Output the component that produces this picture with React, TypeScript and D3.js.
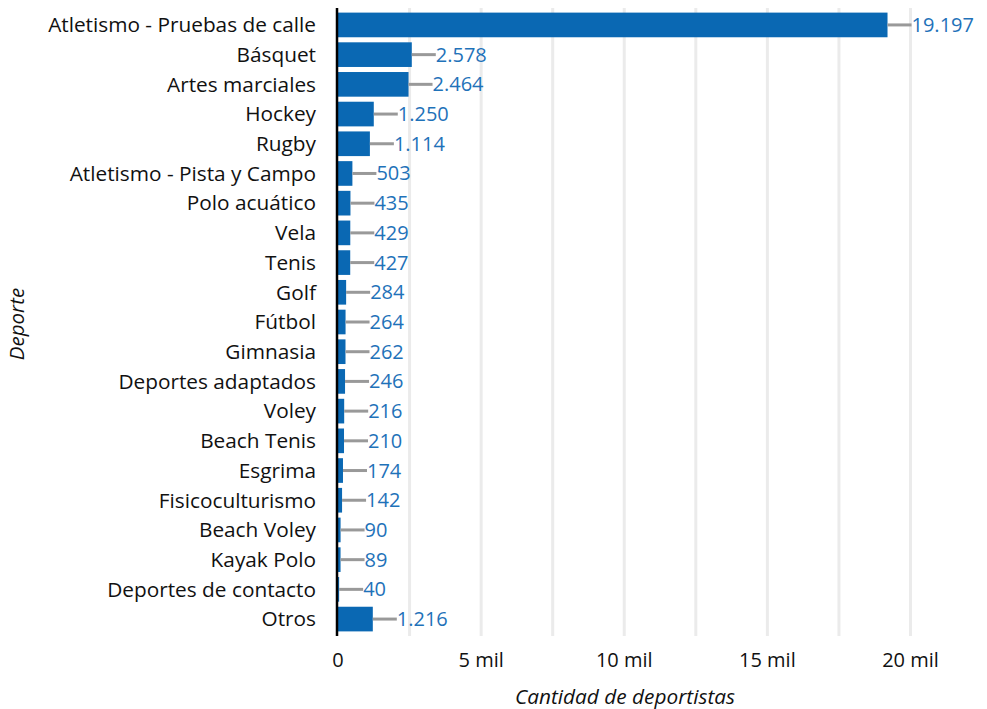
import React from "react";
import * as d3 from "d3";

const categories = [
  "Atletismo - Pruebas de calle",
  "Básquet",
  "Artes marciales",
  "Hockey",
  "Rugby",
  "Atletismo - Pista y Campo",
  "Polo acuático",
  "Vela",
  "Tenis",
  "Golf",
  "Fútbol",
  "Gimnasia",
  "Deportes adaptados",
  "Voley",
  "Beach Tenis",
  "Esgrima",
  "Fisicoculturismo",
  "Beach Voley",
  "Kayak Polo",
  "Deportes de contacto",
  "Otros",
];
const values = [19197, 2578, 2464, 1250, 1114, 503, 435, 429, 427, 284, 264, 262, 246, 216, 210, 174, 142, 90, 89, 40, 1216];
const tickValues = [0, 5000, 10000, 15000, 20000];
const tickLabels = ["0", "5 mil", "10 mil", "15 mil", "20 mil"];
const gridValues = [2500, 5000, 7500, 10000, 12500, 15000, 17500, 20000];

const W = 987;
const H = 709;
const left = 338;
const top = 8;
const bottom = 636;
const FONT = "'Open Sans', sans-serif";
const BAR = "#0a68b3";
const LABEL = "#1f72b9";

const fmt = (v: number) => d3.format(",")(v).replace(/,/g, ".");

export default function App() {
  const x = d3.scaleLinear().domain([0, 20000]).range([left, 910.5]);
  const y = d3
    .scaleBand<string>()
    .domain(categories)
    .range([top, bottom])
    .paddingInner(0.17)
    .paddingOuter(0.155);
  const bw = y.bandwidth();
  return (
    <svg width={W} height={H} style={{ position: "absolute", left: 0, top: 0 }} fontFamily={FONT}>
      {gridValues.map((g) => (
        <line key={g} x1={x(g)} x2={x(g)} y1={top} y2={bottom} stroke="#ebebeb" strokeWidth={3} />
      ))}
      {categories.map((c, i) => {
        const yy = y(c)!;
        const xe = x(values[i]);
        return (
          <g key={c}>
            <rect x={x(0)} y={yy} width={xe - x(0)} height={bw} fill={BAR} />
            <line x1={xe} x2={xe + 24} y1={yy + bw / 2} y2={yy + bw / 2} stroke="#999999" strokeWidth={3} />
            <text x={xe + 24} y={yy + bw / 2} dy="0.35em" fontSize={20} fill={LABEL}>
              {fmt(values[i])}
            </text>
            <text x={316} y={yy + bw / 2} dy="0.35em" fontSize={20.8} fill="#111" textAnchor="end">
              {c}
            </text>
          </g>
        );
      })}
      <line x1={337} x2={337} y1={top} y2={bottom} stroke="#000" strokeWidth={2.5} />
      {tickValues.map((t, i) => (
        <text key={t} x={x(t)} y={660} dy="0.35em" fontSize={20} fill="#111" textAnchor="middle">
          {tickLabels[i]}
        </text>
      ))}
      <text x={625} y={697} dy="0.35em" fontSize={20.8} fontStyle="italic" fill="#111" textAnchor="middle">
        Cantidad de deportistas
      </text>
      <text
        transform={`translate(17,324) rotate(-90)`}
        dy="0.35em"
        fontSize={20.5}
        fontStyle="italic"
        fill="#111"
        textAnchor="middle"
      >
        Deporte
      </text>
    </svg>
  );
}
